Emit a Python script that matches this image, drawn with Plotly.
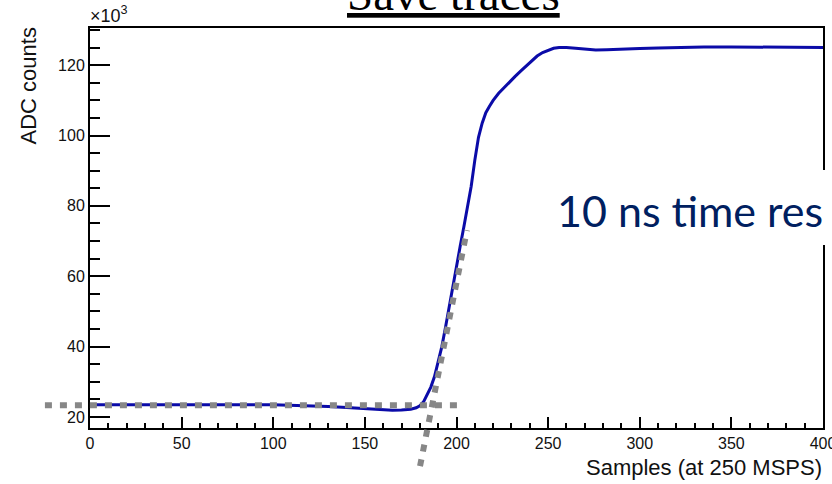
import plotly.graph_objects as go

# ---- data (ADC counts in units of 10^3) ----
samples = [0, 20, 40, 60, 80, 100, 110, 120, 130, 140, 150, 160, 165, 170, 175, 178,
           180, 182, 184, 186, 188, 190, 192, 194, 196, 198, 200, 202, 204, 206, 208,
           210, 212, 214, 216, 218, 220, 223, 226, 229, 232, 235, 238, 241, 244, 247,
           250, 253, 256, 260, 265, 270, 276, 282, 290, 300, 310, 320, 335, 350, 370,
           385, 400]
adc_k = [23.5, 23.55, 23.6, 23.55, 23.5, 23.5, 23.4, 23.3, 23.0, 22.7, 22.3, 21.95, 21.9,
         21.95, 22.2, 22.6,
         23.2, 24.3, 26.5, 28.5, 31.5, 35.5, 40.0, 45.5, 51.5, 57.0, 63.0, 68.5, 74.0, 79.5, 85.5,
         93.0, 99.5, 103.5, 106.5, 108.3, 110.0, 112.0, 113.7, 115.3, 116.8, 118.3, 119.8, 121.3,
         122.6, 123.6,
         124.3, 124.8, 125.05, 125.05, 124.8, 124.5, 124.3, 124.4, 124.6, 124.75, 124.85, 125.0,
         125.15, 125.2, 125.2, 125.1, 125.0]

# guide lines (dotted) in sample / 10^3 ADC units
baseline_x = [-24.6, 201.9]
baseline_y = [23.3, 23.3]
slope_x = [180.1, 205.7]
slope_y = [6.0, 73.1]

x_ticks = [0, 50, 100, 150, 200, 250, 300, 350, 400]
y_ticks = [20, 40, 60, 80, 100, 120]

W, H = 832, 484
# plot frame in pixels
L_PX, R_PX, T_PX, B_PX = 90, 823, 28, 428
X_RANGE = [0, 400]
Y_RANGE = [16.86, 130.57]


def px(x):
    return x / W


def py(y):
    return 1 - y / H


# overlay axes covering the whole figure, aligned with the main axes
xs = (X_RANGE[1] - X_RANGE[0]) / (R_PX - L_PX)
ys = (Y_RANGE[1] - Y_RANGE[0]) / (B_PX - T_PX)
X2_RANGE = [X_RANGE[0] - L_PX * xs, X_RANGE[1] + (W - R_PX) * xs]
Y2_RANGE = [Y_RANGE[0] - (H - B_PX) * ys, Y_RANGE[1] + T_PX * ys]

BLUE = "#0b0ba8"
GREY = "#878787"
SANS = "Liberation Sans, Arial, sans-serif"

fig = go.Figure()
fig.add_trace(go.Scatter(x=samples, y=adc_k, mode="lines",
                         line=dict(color=BLUE, width=3), showlegend=False,
                         xaxis="x", yaxis="y"))
fig.add_trace(go.Scatter(x=baseline_x, y=baseline_y, mode="lines",
                         line=dict(color=GREY, width=6, dash="7px,8px"),
                         showlegend=False, xaxis="x2", yaxis="y2"))
fig.add_trace(go.Scatter(x=slope_x, y=slope_y, mode="lines",
                         line=dict(color=GREY, width=6, dash="7px,8px"),
                         showlegend=False, xaxis="x2", yaxis="y2"))

axis_common = dict(showline=True, linecolor="black", linewidth=2, mirror=True,
                   showgrid=False, zeroline=False, ticks="inside",
                   tickcolor="black", tickwidth=1.5, ticklabeloverflow="allow",
                   tickfont=dict(family=SANS, size=16, color="#111"))

fig.update_layout(
    width=W, height=H, template="none",
    margin=dict(l=0, r=0, t=0, b=0, pad=0),
    paper_bgcolor="white", plot_bgcolor="rgba(0,0,0,0)",
    showlegend=False,
    xaxis=dict(domain=[px(L_PX), px(R_PX)], range=X_RANGE, tickvals=x_ticks,
               ticklen=11, minor=dict(dtick=10, tick0=0, ticklen=5, ticks="inside",
                                      tickcolor="black", tickwidth=1.5),
               anchor="y", **axis_common),
    yaxis=dict(domain=[py(B_PX), py(T_PX)], range=Y_RANGE, tickvals=y_ticks,
               ticklen=20, minor=dict(dtick=5, tick0=0, ticklen=10, ticks="inside",
                                      tickcolor="black", tickwidth=1.5),
               anchor="x", **axis_common),
    xaxis2=dict(domain=[0, 1], range=X2_RANGE, visible=False, anchor="y2"),
    yaxis2=dict(domain=[0, 1], range=Y2_RANGE, visible=False, anchor="x2"),
)

# white box behind the slide text (covers part of the frame)
fig.add_shape(type="rect", xref="paper", yref="paper",
              x0=px(552), x1=1.0, y0=py(245), y1=py(170),
              fillcolor="white", line=dict(width=0), layer="above")

fig.add_annotation(text="10 ns time res", xref="paper", yref="paper",
                   x=px(555), y=py(211), xanchor="left", yanchor="middle",
                   showarrow=False,
                   font=dict(family="Lato, Carlito, sans-serif", size=43, color="#002060"))

fig.add_annotation(text="<u>Save traces</u>", xref="paper", yref="paper",
                   x=px(453), y=py(22), xanchor="center", yanchor="bottom",
                   showarrow=False,
                   font=dict(family="Liberation Serif, Times New Roman, serif", size=47,
                             color="black"))

fig.add_annotation(text="×10<sup>3</sup>", xref="paper", yref="paper",
                   x=px(88), y=py(28), xanchor="left", yanchor="bottom",
                   showarrow=False, font=dict(family=SANS, size=18, color="#111"))

fig.add_annotation(text="Samples (at 250 MSPS)", xref="paper", yref="paper",
                   x=px(824), y=py(467), xanchor="right", yanchor="middle",
                   showarrow=False, font=dict(family=SANS, size=22, color="#111"))

fig.add_annotation(text="ADC counts", xref="paper", yref="paper",
                   x=px(28), y=py(26), xanchor="center", yanchor="top",
                   textangle=-90, showarrow=False,
                   font=dict(family=SANS, size=22, color="#111"))

fig.write_html("out.html",
               config={"displayModeBar": False},
               post_script="document.body.style.margin='0px';"
                           "document.body.style.overflow='hidden';")
